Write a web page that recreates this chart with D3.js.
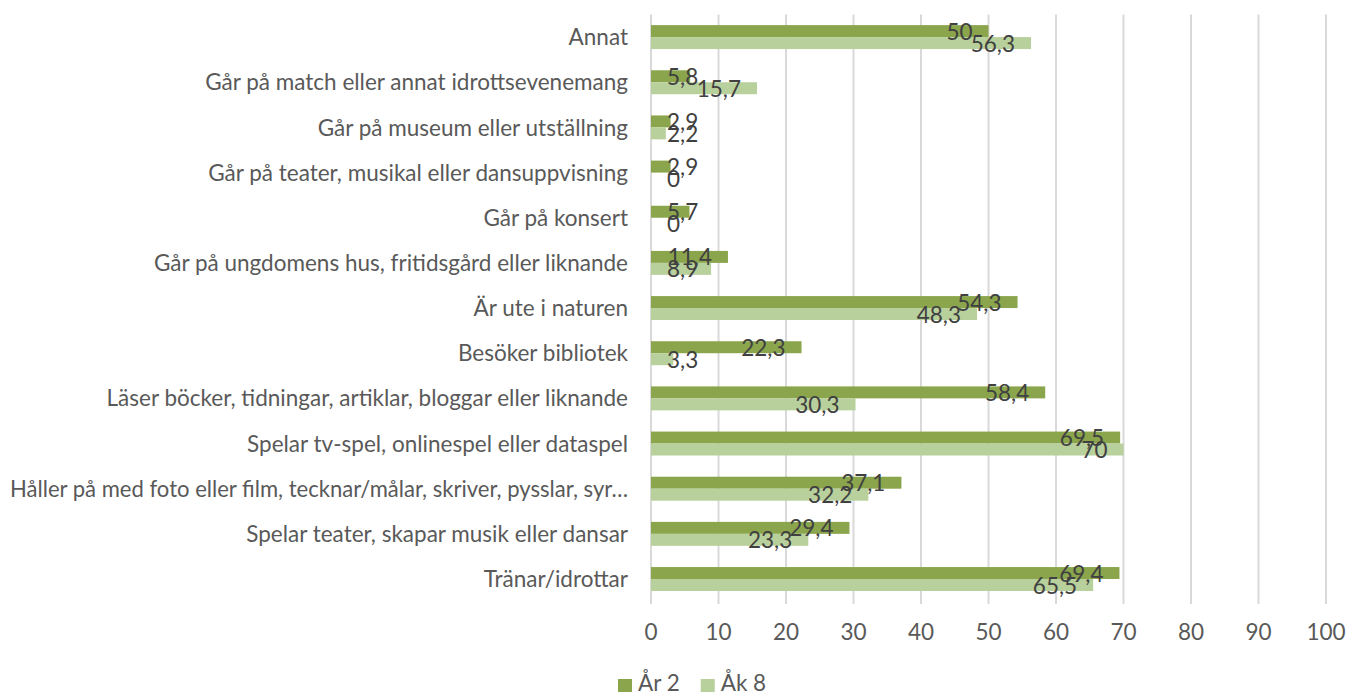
<!DOCTYPE html>
<html>
<head>
<meta charset="utf-8">
<script src="https://cdn.jsdelivr.net/npm/d3@7"></script>
<style>
  body { margin: 0; background: #fff; }
  svg { display: block; font-family: Lato, "Open Sans", sans-serif; }
</style>
</head>
<body>
<svg id="chart" width="1346" height="695"></svg>
<script>
// categories top to bottom, as in the picture
const categories = [
  "Annat",
  "Går på match eller annat idrottsevenemang",
  "Går på museum eller utställning",
  "Går på teater, musikal eller dansuppvisning",
  "Går på konsert",
  "Går på ungdomens hus, fritidsgård eller liknande",
  "Är ute i naturen",
  "Besöker bibliotek",
  "Läser böcker, tidningar, artiklar, bloggar eller liknande",
  "Spelar tv-spel, onlinespel eller dataspel",
  "Håller på med foto eller film, tecknar/målar, skriver, pysslar, syr…",
  "Spelar teater, skapar musik eller dansar",
  "Tränar/idrottar"
]
const ar2 = [50, 5.8, 2.9, 2.9, 5.7, 11.4, 54.3, 22.3, 58.4, 69.5, 37.1, 29.4, 69.4]
const ak8 = [56.3, 15.7, 2.2, 0, 0, 8.9, 48.3, 3.3, 30.3, 70, 32.2, 23.3, 65.5]
const seriesNames = ["År 2", "Åk 8"]
const seriesColors = ["#8aa54c", "#b8d09b"]
const xTicks = [0, 10, 20, 30, 40, 50, 60, 70, 80, 90, 100]

var svg = d3.select("#chart")
var fontSize = 20

// fit font size to calibri-ish width of the reference
var probe = svg.append("text").style("font-size", fontSize + "px").text(categories[9])
var w = probe.node().getComputedTextLength()
probe.remove()
fontSize = fontSize * 381 / w

var x = d3.scaleLinear().domain([0, 100]).range([651, 1326])
var y = d3.scaleBand().domain(categories).range([14.5, 601.6]).paddingInner(0.47).paddingOuter(0.235)
var sub = d3.scaleBand().domain(seriesNames).range([0, y.bandwidth()])

// gridlines
svg.append("g").selectAll("line").data(xTicks).join("line")
  .attr("x1", d => x(d)).attr("x2", d => x(d))
  .attr("y1", 14.5).attr("y2", 604)
  .attr("stroke", "#d9d9d9").attr("stroke-width", 2)

// x tick labels
svg.append("g").selectAll("text").data(xTicks).join("text")
  .attr("x", d => x(d)).attr("y", 640)
  .attr("text-anchor", "middle")
  .style("font-size", fontSize + "px").style("fill", "#595959")
  .text(d => d)

// category labels
svg.append("g").selectAll("text").data(categories).join("text")
  .attr("x", 628).attr("y", d => y(d) + y.bandwidth() / 2 + fontSize * 0.36)
  .attr("text-anchor", "end")
  .style("font-size", fontSize + "px").style("fill", "#595959")
  .text(d => d)
  .each(function () {
    // excel cuts the long one to fit, squeeze it in the same room
    if (this.getComputedTextLength() > 618) {
      d3.select(this).attr("textLength", 618).attr("lengthAdjust", "spacingAndGlyphs")
    }
  })

var rows = []
categories.forEach(function (c, i) {
  rows.push({ cat: c, s: seriesNames[0], v: ar2[i], col: seriesColors[0] })
  rows.push({ cat: c, s: seriesNames[1], v: ak8[i], col: seriesColors[1] })
})

svg.append("g").selectAll("rect").data(rows).join("rect")
  .attr("x", x(0))
  .attr("y", d => y(d.cat) + sub(d.s))
  .attr("width", d => x(d.v) - x(0))
  .attr("height", sub.bandwidth())
  .attr("fill", d => d.col)

// data labels, inside end, pushed right if bar too short
var lbl = svg.append("g").selectAll("text").data(rows).join("text")
  .attr("y", d => y(d.cat) + sub(d.s) + sub.bandwidth() / 2 + 8.5)
  .attr("text-anchor", "end")
  .style("font-size", fontSize + "px").style("fill", "#404040")
  .text(d => String(d.v).replace(".", ","))
lbl.each(function (d) {
  var tw = this.getComputedTextLength()
  var right = Math.max(x(d.v) - 16, x(0) + 16 + tw)
  d3.select(this).attr("x", right)
})

// legend
var leg = svg.append("g")
var lx = 618
seriesNames.forEach(function (s, i) {
  leg.append("rect").attr("x", lx).attr("y", 679).attr("width", 14).attr("height", 13).attr("fill", seriesColors[i])
  var t = leg.append("text").attr("x", lx + 20).attr("y", 691)
    .style("font-size", fontSize + "px").style("fill", "#595959").text(s)
  lx = lx + 20 + t.node().getComputedTextLength() + 21
})
</script>
</body>
</html>
